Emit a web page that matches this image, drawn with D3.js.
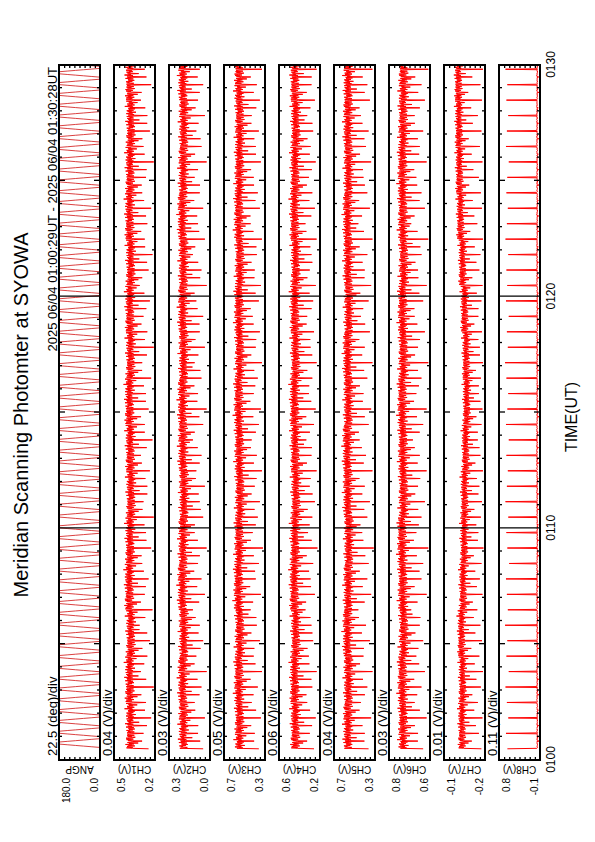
<!DOCTYPE html>
<html>
<head>
<meta charset="utf-8">
<script src="https://cdn.jsdelivr.net/npm/d3@7"></script>
<style>
  body { margin: 0; background: #fff; }
  svg { display: block; }
  text { font-family: "Liberation Sans", Arial, sans-serif; fill: #000; }
</style>
</head>
<body>
<svg></svg>
<script>
// panel descriptions (top to bottom on the landscape page)
const chNames = ["ANGP", "CH1(V)", "CH2(V)", "CH3(V)", "CH4(V)", "CH5(V)", "CH6(V)", "CH7(V)", "CH8(V)"];
const perDiv = [22.5, 0.04, 0.03, 0.05, 0.06, 0.04, 0.03, 0.01, 0.11];
const divText = ["22.5 (deg)/div", "0.04 (V)/div", "0.03 (V)/div", "0.05 (V)/div", "0.06 (V)/div",
                 "0.04 (V)/div", "0.03 (V)/div", "0.01 (V)/div", "0.11 (V)/div"];
const lowVal = [0, 0.18, 0.03, 0.30, 0.16, 0.34, 0.58, -0.19, -0.10];
const topLabel = ["180.0", "0.5", "0.3", "0.7", "0.6", "0.7", "0.8", "-0.1", "0.8"];
const botLabel = ["0.0", "0.2", "0.0", "0.3", "0.2", "0.3", "0.6", "-0.2", "-0.1"];

// time axis (minutes after 01:00 UT)
const timeTicks = [0, 10, 20, 30];
const timeLabels = ["0100", "0110", "0120", "0130"];
const startMin = 29 / 60;      // 01:00:29
const scanSec = 40;            // photometer record: one spike per 40 s
const nScans = 45;

// mirror angle (deg): one round trip of 28 s, 16 samples (sweep, hold, sweep back, hold)
const angpSec = 28;
const nAngp = 65;
const angpScan = [0, 0, 0, 36, 72, 108, 144, 180, 180, 180, 180, 144, 108, 72, 36, 0];

// shape of the noisy band within a record (relative units, slot 0 = main spike)
const bandShapes = [
  [0, 0.5, -0.7, 0.2, 0.9, -0.4, 0.3, -1.1, 0.6, -0.2, 0.8, -0.6, 0.1, 0.4, -0.9, 0.5,
   -3.0, 0.2, -0.5, 1.2, -0.3, 0.6, -0.8, 0.0, 0.7, -0.5, 0.3, -1.4, 0.4, -0.2, 0.9, -0.6],
  [0, -0.4, 0.8, -0.5, 0.2, 0.7, -0.9, 0.4, -0.3, 1.0, -0.7, 0.3, -1.6, 0.6, 0.0, -0.5,
   -2.4, 0.5, -0.2, 0.8, -0.6, 0.1, 0.9, -0.4, -1.0, 0.5, -0.3, 0.7, -0.8, 0.2, 0.6, -0.3],
  [0, 0.7, -0.2, -0.8, 0.5, 0.1, 0.8, -0.5, 0.3, -0.9, 0.4, 0.2, -0.7, 0.9, -0.3, 0.5,
   -3.4, -0.4, 0.6, -0.6, 1.1, -0.2, 0.3, -1.8, 0.5, -0.1, 0.7, -0.6, 0.2, -0.4, 0.8, -0.7]
];
const bandWidth = [0, 0.038, 0.029, 0.048, 0.058, 0.038, 0.029, 0.008, 0.011];

// band level every 2 minutes (V)
const ch1Level = [0.372, 0.378, 0.370, 0.381, 0.376, 0.369, 0.374, 0.380, 0.372, 0.377, 0.371, 0.379, 0.375, 0.370, 0.376];
const ch2Level = [0.186, 0.190, 0.184, 0.192, 0.188, 0.183, 0.189, 0.191, 0.185, 0.190, 0.186, 0.192, 0.187, 0.184, 0.189];
const ch3Level = [0.550, 0.556, 0.548, 0.560, 0.553, 0.546, 0.552, 0.558, 0.549, 0.555, 0.547, 0.557, 0.551, 0.548, 0.554];
const ch4Level = [0.450, 0.458, 0.446, 0.462, 0.455, 0.444, 0.452, 0.460, 0.448, 0.456, 0.447, 0.459, 0.453, 0.446, 0.455];
const ch5Level = [0.552, 0.548, 0.556, 0.550, 0.545, 0.553, 0.557, 0.549, 0.554, 0.546, 0.551, 0.555, 0.548, 0.552, 0.550];
const ch6Level = [0.738, 0.742, 0.735, 0.740, 0.744, 0.736, 0.739, 0.743, 0.737, 0.741, 0.735, 0.740, 0.742, 0.738, 0.736];
const ch7Level = [-0.145, -0.146, -0.144, -0.147, -0.149, -0.150, -0.152, -0.154, -0.153, -0.150, -0.146, -0.142, -0.140, -0.139, -0.138];
const ch8Level = [-0.040, -0.038, -0.039, -0.037, -0.040, -0.038, -0.036, -0.039, -0.038, -0.040, -0.037, -0.039, -0.038, -0.036, -0.039];

// value at the main spike of every record (V)
const ch1Spike = [0.23, 0.27, 0.21, 0.25, 0.19, 0.29, 0.24, 0.22, 0.30, 0.20, 0.26, 0.23, 0.28, 0.21, 0.25, 0.19, 0.27, 0.24, 0.22, 0.29, 0.20, 0.26, 0.23,
                  0.25, 0.21, 0.28, 0.19, 0.24, 0.27, 0.22, 0.30, 0.23, 0.20, 0.26, 0.24, 0.21, 0.28, 0.25, 0.19, 0.27, 0.22, 0.24, 0.29, 0.21, 0.26];
const ch2Spike = [0.07, 0.10, 0.06, 0.12, 0.08, 0.05, 0.11, 0.07, 0.09, 0.13, 0.06, 0.08, 0.10, 0.05, 0.12, 0.07, 0.09, 0.06, 0.11, 0.08, 0.13, 0.07, 0.05,
                  0.10, 0.08, 0.12, 0.06, 0.09, 0.07, 0.11, 0.05, 0.08, 0.13, 0.06, 0.10, 0.07, 0.09, 0.12, 0.05, 0.08, 0.11, 0.06, 0.10, 0.07, 0.09];
const ch3Spike = [0.36, 0.40, 0.34, 0.43, 0.37, 0.33, 0.41, 0.35, 0.38, 0.44, 0.34, 0.39, 0.36, 0.32, 0.42, 0.37, 0.35, 0.40, 0.33, 0.38, 0.43, 0.36, 0.34,
                  0.41, 0.37, 0.33, 0.39, 0.35, 0.42, 0.36, 0.34, 0.40, 0.38, 0.33, 0.44, 0.35, 0.37, 0.41, 0.34, 0.39, 0.36, 0.43, 0.35, 0.38, 0.33];
const ch4Spike = [0.23, 0.28, 0.21, 0.31, 0.25, 0.20, 0.29, 0.24, 0.26, 0.33, 0.22, 0.27, 0.24, 0.19, 0.30, 0.25, 0.22, 0.28, 0.20, 0.26, 0.32, 0.23, 0.21,
                  0.29, 0.25, 0.20, 0.27, 0.23, 0.31, 0.24, 0.21, 0.28, 0.26, 0.20, 0.33, 0.22, 0.25, 0.29, 0.21, 0.27, 0.24, 0.31, 0.22, 0.26, 0.20];
const ch5Spike = [0.39, 0.42, 0.37, 0.45, 0.40, 0.36, 0.43, 0.38, 0.41, 0.47, 0.37, 0.40, 0.39, 0.35, 0.44, 0.40, 0.38, 0.42, 0.36, 0.41, 0.46, 0.39, 0.37,
                  0.43, 0.40, 0.36, 0.42, 0.38, 0.45, 0.39, 0.37, 0.42, 0.40, 0.36, 0.47, 0.38, 0.40, 0.43, 0.37, 0.41, 0.39, 0.45, 0.38, 0.40, 0.36];
const ch6Spike = [0.62, 0.65, 0.60, 0.67, 0.63, 0.61, 0.66, 0.62, 0.64, 0.69, 0.60, 0.63, 0.62, 0.59, 0.66, 0.63, 0.61, 0.65, 0.60, 0.64, 0.68, 0.62, 0.60,
                  0.66, 0.63, 0.59, 0.65, 0.61, 0.67, 0.62, 0.60, 0.65, 0.63, 0.59, 0.69, 0.61, 0.63, 0.66, 0.60, 0.64, 0.62, 0.67, 0.61, 0.63, 0.59];
const ch7Spike = [-0.183, -0.178, -0.185, -0.176, -0.182, -0.186, -0.179, -0.184, -0.181, -0.175, -0.185, -0.180, -0.183, -0.187, -0.177, -0.182, -0.184, -0.179, -0.186, -0.181, -0.176, -0.183, -0.185,
                  -0.178, -0.182, -0.186, -0.180, -0.184, -0.177, -0.183, -0.185, -0.179, -0.181, -0.186, -0.175, -0.184, -0.182, -0.178, -0.185, -0.180, -0.183, -0.176, -0.184, -0.181, -0.186];
const ch8Spike = [0.60, 0.63, 0.58, 0.61, 0.64, 0.57, 0.62, 0.60, 0.65, 0.59, 0.61, 0.63, 0.56, 0.60, 0.62, 0.58, 0.64, 0.61, 0.59, 0.62, 0.57, 0.63, 0.60,
                  0.58, 0.62, 0.65, 0.59, 0.61, 0.57, 0.63, 0.60, 0.62, 0.58, 0.64, 0.61, 0.59, 0.62, 0.60, 0.57, 0.63, 0.61, 0.58, 0.62, 0.60, 0.64];

const levels = [null, ch1Level, ch2Level, ch3Level, ch4Level, ch5Level, ch6Level, ch7Level, ch8Level];
const spikes = [null, ch1Spike, ch2Spike, ch3Spike, ch4Spike, ch5Spike, ch6Spike, ch7Spike, ch8Spike];

// page: drawn in landscape and turned onto the portrait sheet
const width = 595, height = 842;
const left = 82, right = 777;
const top0 = 59, panelH = 41, panelStep = 55;

const svg = d3.select("svg")
    .attr("width", width)
    .attr("height", height);

const page = svg.append("g")
    .attr("transform", `translate(0,${height}) rotate(-90)`);

const x = d3.scaleLinear().domain([0, 30]).range([left, right]);

// build the series of one panel
function series(i) {
  const pts = [];
  if (i === 0) {
    const n = angpScan.length;
    for (let c = 0; c < nAngp; c++)
      angpScan.forEach((v, k) => pts.push([startMin + (c * angpSec + k * angpSec / n) / 60, v]));
    return pts;
  }
  const n = bandShapes[0].length;
  for (let c = 0; c < nScans; c++) {
    for (let k = 0; k < n; k++) {
      const t = startMin + (c * scanSec + k * scanSec / n) / 60;
      const v = k === 0 ? spikes[i][c]
        : levels[i][Math.floor(c / 3)] + bandWidth[i] * bandShapes[(c + i) % 3][k];
      pts.push([t, v]);
    }
  }
  return pts;
}

// titles
page.append("text")
    .attr("x", 427).attr("y", 28)
    .attr("text-anchor", "middle")
    .style("font-size", "20px")
    .text("Meridian Scanning Photomter at SYOWA");

page.append("text")
    .attr("x", 775).attr("y", 57)
    .attr("text-anchor", "end")
    .style("font-size", "13px")
    .text("2025 06/04 01:00:29UT - 2025 06/04 01:30:28UT");

const minorT = d3.range(0, 31).filter(m => m % 5 !== 0);
const midT = [5, 15, 25];

chNames.forEach((name, i) => {
  const top = top0 + i * panelStep;
  const lo = lowVal[i], hi = lowVal[i] + 8 * perDiv[i];
  const y = d3.scaleLinear().domain([lo, hi]).range([top + panelH, top]);
  const g = page.append("g");

  g.append("clipPath").attr("id", "clip" + i)
    .append("rect")
    .attr("x", left).attr("y", top)
    .attr("width", right - left).attr("height", panelH);

  // data
  g.append("path")
      .datum(series(i))
      .attr("clip-path", `url(#clip${i})`)
      .attr("fill", "none")
      .attr("stroke", i === 0 ? "#d01010" : "#ff0000")
      .attr("stroke-width", i === 0 ? 0.8 : 1)
      .attr("stroke-linejoin", "round")
      .attr("d", d3.line().x(d => x(d[0])).y(d => y(d[1])));

  // time ticks on both long edges, pointing inwards
  const tickSets = [[minorT, 3], [midT, 6], [[10, 20], panelH]];
  tickSets.forEach(([vals, len]) => {
    g.append("g")
        .attr("transform", `translate(0,${top})`)
        .call(d3.axisBottom(x).tickValues(vals).tickSize(len).tickFormat(""))
        .call(a => a.select(".domain").remove());
    if (len < panelH) {
      g.append("g")
          .attr("transform", `translate(0,${top + panelH})`)
          .call(d3.axisTop(x).tickValues(vals).tickSize(len).tickFormat(""))
          .call(a => a.select(".domain").remove());
    }
  });

  // value ticks every division on the short edges
  const divTicks = d3.range(1, 8).map(d => lo + d * perDiv[i]);
  g.append("g")
      .attr("transform", `translate(${left},0)`)
      .call(d3.axisRight(y).tickValues(divTicks).tickSize(3).tickFormat(""))
      .call(a => a.select(".domain").remove());
  g.append("g")
      .attr("transform", `translate(${right},0)`)
      .call(d3.axisLeft(y).tickValues(divTicks).tickSize(3).tickFormat(""))
      .call(a => a.select(".domain").remove());

  g.selectAll(".tick line").attr("stroke", "#000").attr("stroke-width", 1.3);

  // frame
  g.append("rect")
      .attr("x", left).attr("y", top)
      .attr("width", right - left).attr("height", panelH)
      .attr("fill", "none")
      .attr("stroke", "#000")
      .attr("stroke-width", 2);

  // labels
  g.append("text")
      .attr("x", left + 4).attr("y", top - 2)
      .style("font-size", "13px")
      .text(divText[i]);

  g.append("text")
      .attr("x", 64).attr("y", top + 11)
      .attr("text-anchor", "end")
      .style("font-size", "10px")
      .text(topLabel[i]);

  g.append("text")
      .attr("x", 64).attr("y", top + panelH - 2)
      .attr("text-anchor", "end")
      .style("font-size", "10px")
      .text(botLabel[i]);

  g.append("text")
      .attr("transform", `translate(76,${top + panelH / 2}) rotate(-90)`)
      .attr("text-anchor", "middle")
      .style("font-size", "10px")
      .text(name);
});

// time labels under the last panel
const lastBottom = top0 + 8 * panelStep + panelH;
page.append("g")
    .attr("transform", `translate(0,${lastBottom})`)
    .call(d3.axisBottom(x).tickValues(timeTicks).tickSize(0).tickPadding(6)
      .tickFormat((d, j) => timeLabels[j]))
    .call(a => a.select(".domain").remove())
    .call(a => a.selectAll("text").style("font-size", "12px").attr("font-family", null));

page.append("text")
    .attr("x", 425).attr("y", 577)
    .attr("text-anchor", "middle")
    .style("font-size", "16px")
    .text("TIME(UT)");
</script>
</body>
</html>
